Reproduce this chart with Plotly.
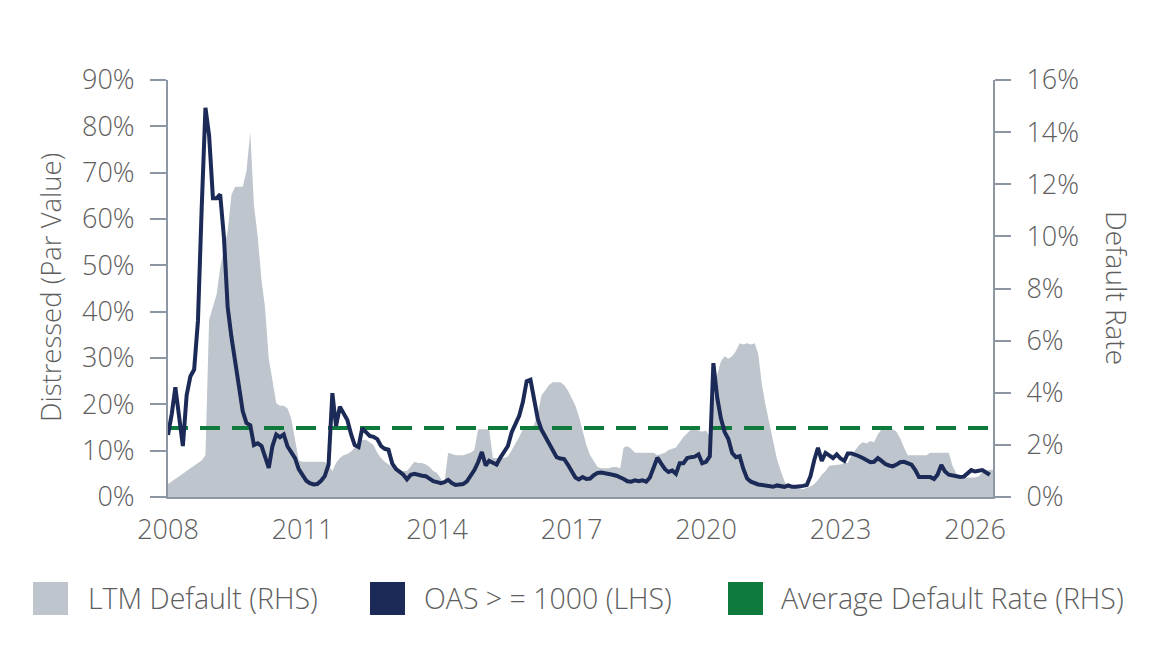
import pandas as pd
import plotly.graph_objects as go

# --- DATA (monthly, first value = Jan 2008) ---
# OAS >= 1000 share of par value (LHS, %)
OAS_1000 = [
    13.4, 18.0, 23.7, 17.0, 11.0, 22.0, 26.0, 27.5, 38.0, 62.0, 84.0, 78.0,   # 2008
    64.5, 64.5, 65.3, 56.0, 41.0, 34.5, 28.9, 23.7, 18.5, 16.0, 15.5, 11.2,   # 2009
    11.6, 11.0, 8.5, 6.3, 11.0, 13.5, 12.9, 13.5, 10.9, 9.5, 8.4, 6.0,        # 2010
    4.6, 3.5, 3.0, 2.7, 2.8, 3.5, 4.5, 7.0, 22.4, 15.3, 19.5, 18.0,           # 2011
    16.6, 13.5, 11.2, 10.8, 14.8, 14.0, 13.2, 13.0, 12.5, 11.0, 10.4, 10.2,   # 2012
    7.2, 6.0, 5.5, 4.8, 3.8, 4.8, 5.0, 4.7, 4.6, 4.5, 4.0, 3.4,               # 2013
    3.2, 3.0, 3.2, 3.7, 3.0, 2.6, 2.7, 2.8, 3.4, 4.5, 5.8, 7.5,               # 2014
    9.7, 6.8, 7.8, 7.4, 7.0, 8.5, 9.8, 11.0, 14.0, 15.5, 17.5, 20.5,          # 2015
    25.0, 25.3, 21.0, 16.8, 14.5, 13.0, 11.5, 10.2, 8.6, 8.3, 8.2, 7.0,       # 2016
    5.5, 4.2, 3.8, 4.3, 3.9, 4.0, 4.7, 5.2, 5.3, 5.2, 5.0, 4.8,               # 2017
    4.6, 4.3, 3.9, 3.4, 3.3, 3.6, 3.4, 3.6, 3.3, 4.2, 6.2, 8.5,               # 2018
    7.2, 6.0, 5.4, 5.7, 5.0, 7.3, 7.3, 8.4, 8.6, 8.7, 9.2, 7.3,               # 2019
    7.6, 8.8, 28.9, 21.5, 17.0, 14.0, 12.5, 9.5, 8.6, 8.8, 6.0, 4.0,          # 2020
    3.3, 2.9, 2.7, 2.6, 2.4, 2.3, 2.2, 2.5, 2.3, 2.2, 2.5, 2.2,               # 2021
    2.2, 2.2, 2.4, 2.6, 4.5, 8.0, 10.6, 7.8, 9.5, 9.0, 8.4, 9.2,              # 2022
    8.3, 7.8, 9.4, 9.4, 9.2, 8.8, 8.4, 8.0, 7.5, 7.6, 8.4, 7.8,               # 2023
    7.1, 6.8, 6.6, 7.0, 7.5, 7.6, 7.3, 7.0, 5.8, 4.3, 4.3, 4.3,               # 2024
    4.3, 3.9, 4.8, 6.9, 5.5, 4.8, 4.6, 4.3, 4.3, 4.4, 5.2, 5.8,               # 2025
    5.5, 5.6, 5.8, 5.3, 4.8,                                                  # 2026
]

# LTM default rate (RHS, %)
LTM_DEFAULT = [
    0.5, 0.6, 0.7, 0.77, 0.9, 1.0, 1.1, 1.2, 1.3, 1.4, 1.6, 6.8,              # 2008
    7.3, 7.8, 8.8, 9.5, 10.2, 11.6, 11.9, 11.9, 11.9, 12.5, 14.0, 11.2,       # 2009
    10.0, 8.3, 7.3, 5.3, 4.4, 3.6, 3.5, 3.5, 3.4, 3.0, 2.2, 1.4,              # 2010
    1.35, 1.35, 1.35, 1.35, 1.35, 1.35, 1.35, 1.2, 1.0, 1.3, 1.5, 1.6,        # 2011
    1.65, 1.75, 1.9, 2.0, 2.2, 2.2, 2.1, 2.0, 1.7, 1.5, 1.35, 1.25,           # 2012
    1.15, 1.1, 1.05, 1.0, 1.0, 1.2, 1.35, 1.3, 1.3, 1.25, 1.15, 1.0,          # 2013
    0.92, 0.7, 0.5, 1.7, 1.65, 1.6, 1.6, 1.6, 1.65, 1.7, 1.8, 2.6,            # 2014
    2.6, 2.6, 2.6, 1.5, 1.5, 1.5, 1.5, 1.55, 1.8, 2.0, 2.3, 2.6,              # 2015
    2.65, 2.7, 2.75, 3.2, 3.9, 4.1, 4.3, 4.4, 4.4, 4.4, 4.3, 4.1,             # 2016
    3.8, 3.5, 3.1, 2.5, 2.0, 1.6, 1.35, 1.15, 1.1, 1.1, 1.1, 1.15,            # 2017
    1.15, 1.1, 1.9, 1.95, 1.85, 1.7, 1.7, 1.7, 1.7, 1.7, 1.7, 1.6,            # 2018
    1.65, 1.7, 1.8, 1.85, 1.9, 2.1, 2.3, 2.45, 2.6, 2.6, 2.55, 2.5,           # 2019
    2.55, 2.3, 3.5, 4.7, 5.2, 5.4, 5.3, 5.4, 5.6, 5.9, 5.85, 5.9,             # 2020
    5.85, 5.9, 5.5, 4.3, 3.5, 2.8, 2.1, 1.45, 1.0, 0.6, 0.4, 0.38,            # 2021
    0.35, 0.35, 0.3, 0.35, 0.4, 0.5, 0.65, 0.85, 1.0, 1.2, 1.22, 1.25,        # 2022
    1.25, 1.3, 1.3, 1.6, 1.8, 2.0, 2.1, 2.05, 2.15, 2.1, 2.4, 2.6,            # 2023
    2.6, 2.6, 2.6, 2.5, 2.25, 1.9, 1.6, 1.6, 1.6, 1.6, 1.6, 1.6,              # 2024
    1.7, 1.7, 1.7, 1.7, 1.7, 1.7, 1.2, 0.9, 0.75, 0.75, 0.75, 0.75,           # 2025
    0.75, 0.8, 0.95, 1.0, 1.05, 1.05,                                         # 2026
]

AVG_DEFAULT_RATE = 2.65
START = "2008-01-01"
X_RANGE = ["2008-01-01", "2026-05-27"]
X_TICKS = ["2008-01-01", "2011-01-01", "2014-01-01", "2017-01-01",
           "2020-01-01", "2023-01-01", "2026-01-01"]
X_LABELS = ["2008", "2011", "2014", "2017", "2020", "2023", "2026"]
LEFT_TICKS = list(range(0, 91, 10))
RIGHT_TICKS = list(range(0, 17, 2))
LEGEND_NAMES = ["LTM Default (RHS)", "OAS > = 1000 (LHS)", "Average Default Rate (RHS)"]

# --- STYLE ---
GREY_FILL = "#bec5cc"
NAVY = "#1b2a56"
GREEN = "#0e7a3b"
AXIS = "#8d97a3"
TEXT = "#5e5e5e"
FONT = "Open Sans"
FS = 27

# plot box in figure pixels (page body has an 8px margin)
PL, PR, PT, PB = 160, 985, 72, 489
def xp(px):
    return (px - PL) / (PR - PL)
def yp(py):
    return (PB - py) / (PB - PT)

oas_dates = pd.date_range(START, periods=len(OAS_1000), freq="MS")
ltm_dates = pd.date_range(START, periods=len(LTM_DEFAULT), freq="MS")

fig = go.Figure()

# RHS series live on the base axis so the LHS line draws on top
fig.add_trace(go.Scatter(
    x=ltm_dates, y=LTM_DEFAULT, mode="lines", fill="tozeroy",
    fillcolor=GREY_FILL, line=dict(width=0, color=GREY_FILL),
    name=LEGEND_NAMES[0], yaxis="y", showlegend=False))

fig.add_trace(go.Scatter(
    x=X_RANGE, y=[AVG_DEFAULT_RATE, AVG_DEFAULT_RATE], mode="lines",
    line=dict(color=GREEN, width=4, dash="20px,12px"),
    name=LEGEND_NAMES[2], yaxis="y", showlegend=False))

fig.add_trace(go.Scatter(
    x=oas_dates, y=OAS_1000, mode="lines",
    line=dict(color=NAVY, width=4),
    name=LEGEND_NAMES[1], yaxis="y2", showlegend=False))

tick_font = dict(family=FONT, size=FS, color=TEXT, weight=300)

fig.update_layout(
    width=1161, height=635,
    margin=dict(l=PL, r=1161 - PR, t=PT, b=635 - PB),
    paper_bgcolor="white", plot_bgcolor="white",
    font=dict(family=FONT, color=TEXT),
    showlegend=False,
    xaxis=dict(
        range=X_RANGE, type="date",
        tickvals=X_TICKS, ticktext=X_LABELS, ticks="",
        tickfont=tick_font, ticklabelstandoff=8,
        showgrid=False, zeroline=False,
        showline=True, linecolor=AXIS, linewidth=2,
    ),
    yaxis=dict(
        side="right", range=[0, 16], tickvals=RIGHT_TICKS,
        ticktext=[f"{v}%" for v in RIGHT_TICKS],
        ticks="outside", ticklen=16, tickwidth=2, tickcolor=AXIS,
        tickfont=tick_font, ticklabelstandoff=10,
        showgrid=False, zeroline=False,
        showline=True, linecolor=AXIS, linewidth=2,
    ),
    yaxis2=dict(
        side="left", overlaying="y", range=[0, 90], tickvals=LEFT_TICKS,
        ticktext=[f"{v}%" for v in LEFT_TICKS],
        ticks="outside", ticklen=16, tickwidth=2, tickcolor=AXIS,
        tickfont=tick_font, ticklabelstandoff=10,
        showgrid=False, zeroline=False,
        showline=True, linecolor=AXIS, linewidth=2,
    ),
)

# axis titles
fig.add_annotation(text="Distressed (Par Value)", xref="paper", yref="paper",
                   x=xp(42), y=yp(280), textangle=-90, showarrow=False,
                   xanchor="center", yanchor="middle",
                   font=dict(family=FONT, size=FS + 0.5, color=TEXT, weight=300))
fig.add_annotation(text="Default Rate", xref="paper", yref="paper",
                   x=xp(1109), y=yp(280), textangle=90, showarrow=False,
                   xanchor="center", yanchor="middle",
                   font=dict(family=FONT, size=FS + 1, color=TEXT, weight=300))

# legend with square swatches
swatch_x = [25, 362, 720]
label_x = [78, 414, 771]
for name, colour, sx, lx in zip(LEGEND_NAMES, [GREY_FILL, NAVY, GREEN], swatch_x, label_x):
    fig.add_shape(type="rect", xref="paper", yref="paper",
                  x0=xp(sx), x1=xp(sx + 35), y0=yp(607), y1=yp(574),
                  fillcolor=colour, line=dict(width=0))
    fig.add_annotation(text=name, xref="paper", yref="paper",
                       x=xp(lx), y=yp(590), showarrow=False,
                       xanchor="left", yanchor="middle",
                       font=dict(family=FONT, size=28.5, color=TEXT, weight=300))

fig.write_html("out.html")
